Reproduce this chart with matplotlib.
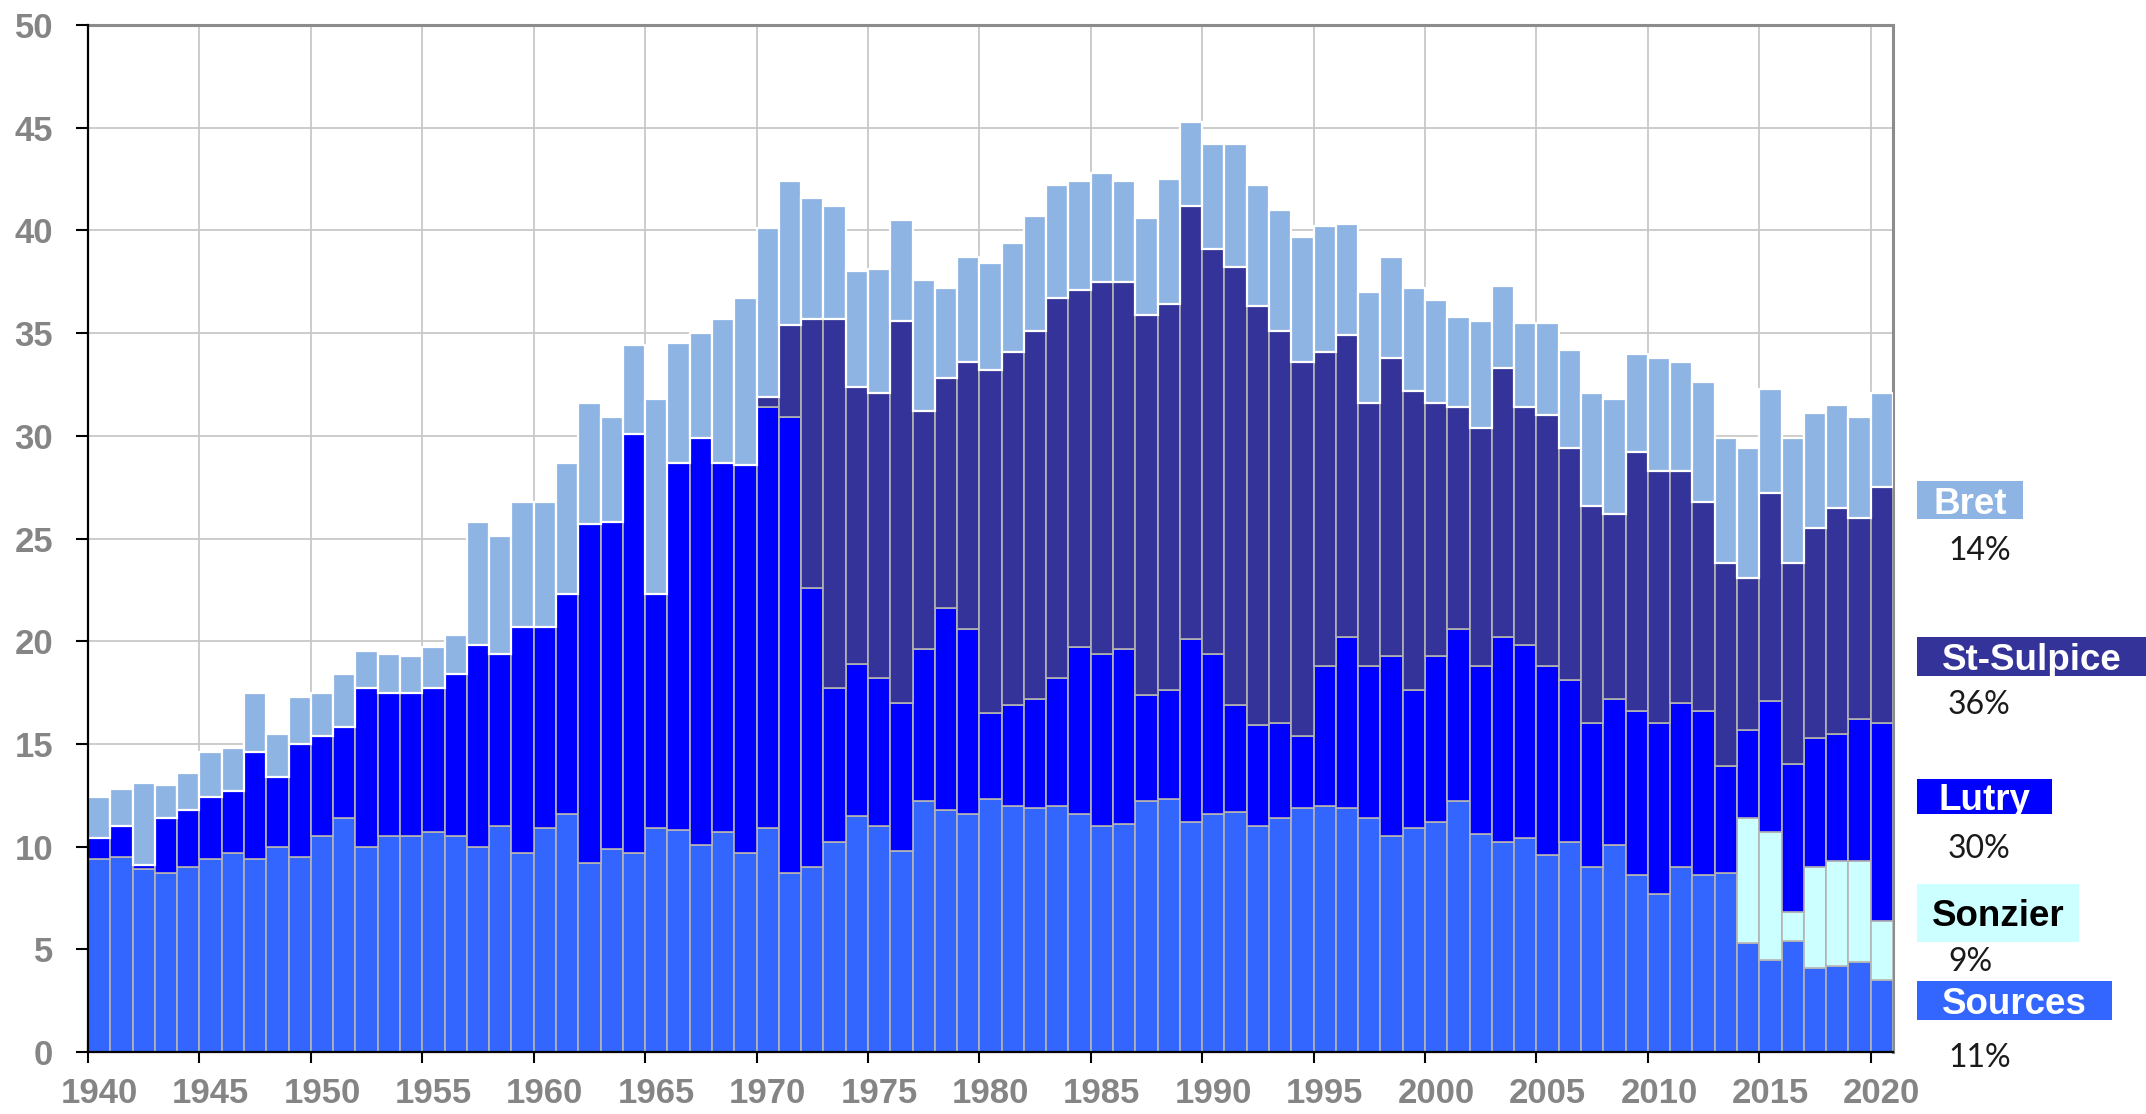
import matplotlib
matplotlib.use("Agg")
import matplotlib.pyplot as plt
from matplotlib.patches import Rectangle
import numpy as np

years = list(range(1940, 2021))

sources = [9.4, 9.5, 8.9, 8.7, 9.0, 9.4, 9.7, 9.4, 10.0, 9.5,
           10.5, 11.4, 10.0, 10.5, 10.5, 10.7, 10.5, 10.0, 11.0, 9.7,
           10.9, 11.6, 9.2, 9.9, 9.7, 10.9, 10.8, 10.1, 10.7, 9.7,
           10.9, 8.7, 9.0, 10.2, 11.5, 11.0, 9.8, 12.2, 11.8, 11.6,
           12.3, 12.0, 11.9, 12.0, 11.6, 11.0, 11.1, 12.2, 12.3, 11.2,
           11.6, 11.7, 11.0, 11.4, 11.9, 12.0, 11.9, 11.4, 10.5, 10.9,
           11.2, 12.2, 10.6, 10.2, 10.4, 9.6, 10.2, 9.0, 10.1, 8.6,
           7.7, 9.0, 8.6, 8.7, 5.3, 4.5, 5.4, 4.1, 4.2, 4.4,
           3.5]
sonzier = [0.0] * 74 + [6.1, 6.2, 1.4, 4.9, 5.1, 4.9, 2.9]
lutry = [1.0, 1.5, 0.2, 2.7, 2.8, 3.0, 3.0, 5.2, 3.4, 5.5,
         4.9, 4.4, 7.7, 7.0, 7.0, 7.0, 7.9, 9.8, 8.4, 11.0,
         9.8, 10.7, 16.5, 15.9, 20.4, 11.4, 17.9, 19.8, 18.0, 18.9,
         20.5, 22.2, 13.6, 7.5, 7.4, 7.2, 7.2, 7.4, 9.8, 9.0,
         4.2, 4.9, 5.3, 6.2, 8.1, 8.4, 8.5, 5.2, 5.3, 8.9,
         7.8, 5.2, 4.9, 4.6, 3.5, 6.8, 8.3, 7.4, 8.8, 6.7,
         8.1, 8.4, 8.2, 10.0, 9.4, 9.2, 7.9, 7.0, 7.1, 8.0,
         8.3, 8.0, 8.0, 5.2, 4.3, 6.4, 7.2, 6.3, 6.2, 6.9,
         9.6]
st_sulpice = [0.0] * 30 + [
    0.5, 4.5, 13.1, 18.0, 13.5, 13.9, 18.6, 11.6, 11.2, 13.0,
    16.7, 17.2, 17.9, 18.5, 17.4, 18.1, 17.9, 18.5, 18.8, 21.1,
    19.7, 21.3, 20.4, 19.1, 18.2, 15.3, 14.7, 12.8, 14.5, 14.6,
    12.3, 10.8, 11.6, 13.1, 11.6, 12.2, 11.3, 10.6, 9.0, 12.6,
    12.3, 11.3, 10.2, 9.9, 7.4, 10.1, 9.8, 10.2, 11.0, 9.8,
    11.5]
bret = [2.0, 1.8, 4.0, 1.6, 1.8, 2.2, 2.1, 2.9, 2.1, 2.3,
        2.1, 2.6, 1.8, 1.9, 1.8, 2.0, 1.9, 6.0, 5.7, 6.1,
        6.1, 6.4, 5.9, 5.1, 4.3, 9.5, 5.8, 5.1, 7.0, 8.1,
        8.2, 7.0, 5.9, 5.5, 5.6, 6.0, 4.9, 6.4, 4.4, 5.1,
        5.2, 5.3, 5.6, 5.5, 5.3, 5.3, 4.9, 4.7, 6.1, 4.1,
        5.1, 6.0, 5.9, 5.9, 6.1, 6.1, 5.4, 5.4, 4.9, 5.0,
        5.0, 4.4, 5.2, 4.0, 4.1, 4.5, 4.8, 5.5, 5.6, 4.8,
        5.5, 5.3, 5.8, 6.1, 6.3, 5.1, 6.1, 5.6, 5.0, 4.9,
        4.6]

series_names = ["Sources", "Sonzier", "Lutry", "St-Sulpice", "Bret"]
series_values = [sources, sonzier, lutry, st_sulpice, bret]
series_colors = ["#3366FF", "#CCFFFF", "#0000FF", "#333399", "#8EB4E3"]
series_edges = ["#b4b4b4", "#b4b4b4", "#b4b4b4", "#b4b4b4", "white"]
legend_pcts = ["11%", "9%", "30%", "36%", "14%"]

x_ticks = list(range(1940, 2021, 5))
y_ticks = list(range(0, 51, 5))

W, H = 2146, 1114
fig = plt.figure(figsize=(W / 100, H / 100), dpi=100)
ax = fig.add_axes([88 / W, 1 - 1052 / H, (1893 - 88) / W, (1052 - 25) / H])

bottom = np.zeros(len(years))
for name, vals, col, ec in zip(series_names, series_values, series_colors, series_edges):
    v = np.array(vals, dtype=float)
    ax.bar(years, v, width=1.0, align="edge", bottom=bottom, color=col,
           edgecolor=ec, linewidth=1.2 if ec != "white" else 1.6, zorder=3)
    bottom = bottom + v

ax.set_xlim(1940, 2021)
ax.set_ylim(0, 50)
ax.set_axisbelow(True)
ax.grid(True, which="major", color="#c8c8c8", linewidth=1.3, zorder=0)

ax.set_xticks(x_ticks)
ax.set_xticklabels([""] * len(x_ticks))
ax.set_xticks([t + 0.5 for t in x_ticks], minor=True)
ax.set_xticklabels([str(t) for t in x_ticks], minor=True)
ax.tick_params(axis="x", which="major", direction="inout", length=16, width=1.5, color="black")
ax.tick_params(axis="x", which="minor", length=0, pad=18)
ax.set_yticks(y_ticks)
ax.tick_params(axis="y", which="major", direction="out", length=9, width=1.5, color="black", pad=16)

for lab in ax.get_xticklabels(minor=True) + ax.get_yticklabels():
    lab.set_fontfamily("Liberation Sans")
    lab.set_fontweight("bold")
    lab.set_fontsize(25)
    lab.set_color("#858585")

for s in ["left", "bottom"]:
    ax.spines[s].set_color("black")
    ax.spines[s].set_linewidth(1.6)
for s in ["top", "right"]:
    ax.spines[s].set_color("#8c8c8c")
    ax.spines[s].set_linewidth(2.2)
ax.spines["left"].set_zorder(5)
ax.spines["bottom"].set_zorder(5)

# legend boxes (pixel layout): x0, x1, y0, y1, pct y
legend_boxes = {
    "Bret": (1917, 2023, 481, 519, 548),
    "St-Sulpice": (1917, 2146, 637, 676, 702),
    "Lutry": (1917, 2052, 779, 814, 846),
    "Sonzier": (1917, 2079, 884, 942, 959),
    "Sources": (1917, 2112, 981, 1020, 1055),
}
for name, col, pct in zip(series_names, series_colors, legend_pcts):
    x0, x1, y0, y1, py = legend_boxes[name]
    fig.add_artist(Rectangle((x0 / W, 1 - y1 / H), (x1 - x0) / W, (y1 - y0) / H,
                             transform=fig.transFigure, facecolor=col, edgecolor="none"))
    tcol = "black" if name == "Sonzier" else "white"
    fig.text((x0 + x1) / 2 / W, 1 - (y0 + y1) / 2 / H, name, ha="center", va="center_baseline",
             fontsize=26.5, fontweight="bold", family="Liberation Sans", color=tcol)
    fig.text(1948 / W, 1 - py / H, pct, ha="left", va="center_baseline",
             fontsize=23, family="Lato", color="#1a1a1a")

fig.savefig("out.png", dpi=100)
